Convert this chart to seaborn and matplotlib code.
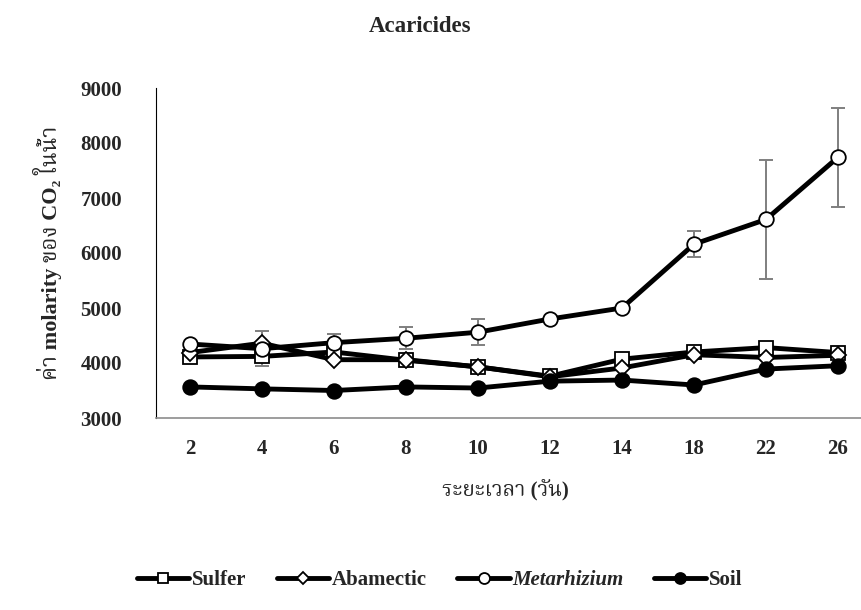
import numpy as np
import pandas as pd
import matplotlib
matplotlib.use("Agg")
import matplotlib.pyplot as plt
from matplotlib import font_manager as fm
import seaborn as sns

days = ["2", "4", "6", "8", "10", "12", "14", "18", "22", "26"]
sulfer = [4110, 4120, 4200, 4050, 3930, 3760, 4070, 4200, 4280, 4190]
abamectic = [4190, 4360, 4060, 4060, 3930, 3750, 3910, 4150, 4100, 4140]
metarhizium = [4345, 4260, 4370, 4450, 4560, 4800, 5000, 6160, 6610, 7740]
soil = [3565, 3530, 3500, 3565, 3545, 3670, 3690, 3600, 3890, 3950]
metarhizium_err = [0, 320, 165, 200, 240, 0, 0, 240, 1080, 900]
sulfer_err = [0, 0, 0, 90, 0, 0, 0, 0, 0, 0]

series_names = ["Sulfer", "Abamectic", "Metarhizium", "Soil"]
series_values = [sulfer, abamectic, metarhizium, soil]

sns.set_theme(style="white")
available = {f.name for f in fm.fontManager.ttflist}
thai_cands = ["Noto Serif Thai", "Noto Sans Thai", "Norasi", "Tlwg Typo", "Loma", "Garuda",
              "Kinnari", "Sawasdee", "Laksaman", "TH Sarabun New", "Tahoma", "FreeSerif"]
thai = [f for f in thai_cands if f in available]
fams = ["Liberation Serif"] + thai + ["DejaVu Serif", "DejaVu Sans"]
plt.rcParams["font.family"] = fams
plt.rcParams["font.weight"] = "bold"

fig = plt.figure(figsize=(8.61, 6.10), dpi=100)
ax = fig.add_axes([156 / 861, 1 - 418 / 610, 1 - 156 / 861, (418 - 88) / 610])

pos = np.arange(len(days))
df = pd.DataFrame({
    "pos": np.tile(pos, 4),
    "value": np.concatenate(series_values),
    "series": np.repeat(series_names, len(days)),
})

ax.errorbar(pos, metarhizium, yerr=metarhizium_err, fmt="none", ecolor="#7f7f7f",
            elinewidth=1.4, capsize=5, capthick=1.4, zorder=1)
ax.errorbar(pos, sulfer, yerr=sulfer_err, fmt="none", ecolor="#7f7f7f",
            elinewidth=1.4, capsize=5, capthick=1.4, zorder=1)

markers = {"Sulfer": "s", "Abamectic": "D", "Metarhizium": "o", "Soil": "o"}
faces = {"Sulfer": "white", "Abamectic": "white", "Metarhizium": "white", "Soil": "black"}
sizes = {"Sulfer": 10, "Abamectic": 8.5, "Metarhizium": 10.5, "Soil": 10.5}
for name in series_names:
    sub = df[df["series"] == name]
    sns.lineplot(data=sub, x="pos", y="value", ax=ax, color="black", linewidth=3.5,
                 marker=markers[name], markersize=sizes[name], markerfacecolor=faces[name],
                 markeredgecolor="black", markeredgewidth=1.3, label=name, zorder=3)

ax.set_xlim(-0.472, 9.32)
ax.set_ylim(3000, 9000)
ax.set_yticks(range(3000, 9001, 1000))
ax.set_xticks(pos)
ax.set_xticklabels(days)
ax.tick_params(axis="both", length=0, labelsize=15)
ax.tick_params(axis="y", pad=24.5)
ax.tick_params(axis="x", pad=15)
for lab in ax.get_xticklabels() + ax.get_yticklabels():
    lab.set_fontweight("bold")

for s in ["top", "right"]:
    ax.spines[s].set_visible(False)
ax.spines["left"].set_color("black")
ax.spines["left"].set_linewidth(0.8)
ax.spines["bottom"].set_color("#8c8c8c")
ax.spines["bottom"].set_linewidth(1.2)

ax.set_xlabel("ระยะเวลา (วัน)", fontsize=15, fontweight="bold")
ax.set_ylabel("ค่า molarity ของ CO₂ ในน้ำ", fontsize=16, fontweight="bold")
ax.xaxis.set_label_coords((505 - 156) / (861 - 156), -(491 - 418) / 330)
ax.xaxis.label.set_va("center")
ax.yaxis.set_label_coords(-(156 - 48) / (861 - 156), (418 - 253) / 330)
ax.yaxis.label.set_va("center")

fig.text(420 / 861, 1 - 26 / 610, "Acaricides", ha="center", va="center",
         fontsize=16.5, fontweight="bold")

leg = ax.legend(loc="center", bbox_to_anchor=((440 - 156) / (861 - 156), -(580 - 418) / 330),
                ncol=4, frameon=False, handlelength=2.5, columnspacing=1.45,
                handletextpad=0.15, markerscale=0.75, prop={"weight": "bold", "size": 15})
leg.get_texts()[2].set_fontstyle("italic")

fig.savefig("out.png", dpi=100)
